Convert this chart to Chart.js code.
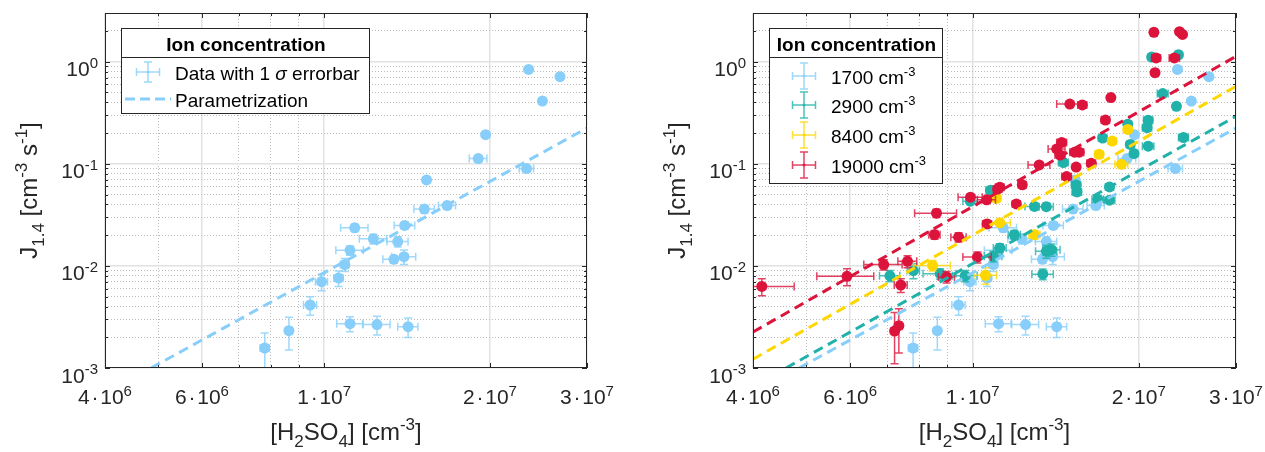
<!DOCTYPE html>
<html>
<head>
<meta charset="utf-8">
<script src="https://cdn.jsdelivr.net/npm/chart.js@4"></script>
<style>
  html, body { margin: 0; padding: 0; background: #fff; }
  #wrap { position: relative; width: 1265px; height: 452px; }
  #wrap canvas { position: absolute; top: 0; }
</style>
</head>
<body>
<div id="wrap">
  <canvas id="left" width="632" height="452" style="left:0"></canvas>
  <canvas id="right" width="633" height="452" style="left:632px"></canvas>
</div>
<script>
// ---- axis ticks ----
const xMajorTicks = [4e6, 6e6, 1e7, 2e7, 3e7];
const xMinorTicks = [5e6, 7e6, 8e6, 9e6];
const xTickLabels = [['4\u200A·\u200A10', '6'], ['6\u200A·\u200A10', '6'], ['1\u200A·\u200A10', '7'], ['2\u200A·\u200A10', '7'], ['3\u200A·\u200A10', '7']];
const yMajorTicks = [1e-3, 1e-2, 1e-1, 1];
const yTickLabels = [['10', '-3'], ['10', '-2'], ['10', '-1'], ['10', '0']];
const yMin = 1e-3, yMax = 3;

// ---- ion concentration 1700 cm-3 ----
const h2so4_1700 = [7.80e6, 8.63e6, 9.43e6, 9.89e6, 10.62e6, 10.90e6, 11.14e6, 11.36e6, 12.28e6, 13.60e6, 13.38e6, 13.96e6, 14.00e6,
  15.20e6, 15.34e6, 16.72e6, 19.04e6, 19.64e6, 23.30e6, 23.50e6, 24.90e6, 26.80e6, 11.14e6, 12.47e6, 14.20e6];
const dH2so4_1700 = [0.15e6, 0.12e6, 0.26e6, 0.25e6, 0.20e6, 0.20e6, 0.64e6, 0.65e6, 0.70e6, 0.60e6, 0.60e6, 0.70e6, 0.60e6,
  0.65e6, 0.20e6, 0.60e6, 0.70e6, 0.20e6, 0.70e6, 0.20e6, 0.20e6, 0.30e6, 0.60e6, 0.70e6, 0.60e6];
const j_1700 = [1.57e-3, 2.32e-3, 4.14e-3, 7.0e-3, 7.6e-3, 1.03e-2, 1.42e-2, 2.36e-2, 1.84e-2, 1.73e-2, 1.16e-2, 1.23e-2, 2.49e-2,
  3.6e-2, 6.96e-2, 3.9e-2, 0.1125, 0.193, 0.0898, 0.841, 0.412, 0.714, 2.72e-3, 2.66e-3, 2.54e-3];
const dJ_1700 = [0.63e-3, 0.82e-3, 0.85e-3, 1.3e-3, 1.3e-3, 1.5e-3, 1.5e-3, 2.0e-3, 2.0e-3, 2.0e-3, 1.0e-3, 2.0e-3, 2.0e-3,
  3.0e-3, 4.0e-3, 3.0e-3, 8e-3, 1e-2, 6e-3, 4e-2, 2e-2, 3e-2, 0.45e-3, 0.55e-3, 0.55e-3];

// ---- ion concentration 2900 cm-3 ----
const h2so4_2900 = [7.08e6, 7.81e6, 8.73e6, 9.69e6, 10.90e6, 11.20e6, 11.90e6, 12.94e6, 13.60e6, 13.40e6, 13.60e6, 13.90e6, 10.77e6,
  9.90e6, 14.60e6, 15.40e6, 15.45e6, 16.85e6, 17.70e6, 17.70e6, 17.20e6, 19.30e6, 19.60e6, 19.10e6, 20.80e6, 20.70e6, 20.80e6,
  22.10e6, 23.40e6, 24.10e6, 21.10e6, 23.60e6];
const dH2so4_2900 = [0.30e6, 0.20e6, 0.60e6, 0.50e6, 0.40e6, 0.30e6, 0.30e6, 0.50e6, 0.40e6, 0.60e6, 0.60e6, 0.50e6, 0.20e6,
  0.30e6, 0.30e6, 0.30e6, 0.30e6, 0.40e6, 0.40e6, 0.30e6, 0.30e6, 0.30e6, 0.30e6, 0.30e6, 0.40e6, 0.40e6, 0.50e6,
  0.50e6, 0.30e6, 0.50e6, 0.30e6, 0.30e6];
const j_2900 = [0.0080, 0.0090, 0.0084, 0.0080, 0.0124, 0.0150, 0.0202, 0.0382, 0.0380, 0.0083, 0.0139, 0.0144, 0.0550,
  0.0430, 0.1030, 0.0620, 0.0530, 0.0450, 0.0440, 0.0594, 0.1790, 0.1550, 0.1260, 0.2440, 0.2670, 0.2260, 0.1490,
  0.4870, 0.3660, 0.1810, 1.1100, 1.1700];
const dJ_2900 = [0.0010, 0.0015, 0.0010, 0.0010, 0.0015, 0.0015, 0.002, 0.003, 0.003, 0.001, 0.002, 0.002, 0.004,
  0.003, 0.006, 0.004, 0.004, 0.003, 0.003, 0.004, 0.01, 0.01, 0.008, 0.015, 0.015, 0.015, 0.01,
  0.03, 0.02, 0.01, 0.05, 0.05];

// ---- ion concentration 8400 cm-3 ----
const h2so4_8400 = [8.46e6, 10.55e6, 11.20e6, 12.94e6, 11.04e6, 16.95e6, 17.90e6, 18.60e6, 19.10e6];
const dH2so4_8400 = [0.65e6, 0.50e6, 0.50e6, 0.30e6, 0.20e6, 0.30e6, 0.30e6, 0.50e6, 0.30e6];
const j_8400 = [0.0101, 0.0081, 0.0264, 0.0202, 0.0460, 0.1240, 0.1670, 0.0990, 0.2170];
const dJ_8400 = [0.0012, 0.0015, 0.002, 0.002, 0.003, 0.008, 0.01, 0.006, 0.012];

// ---- ion concentration 19000 cm-3 ----
const h2so4_19000 = [4.15e6, 5.92e6, 6.90e6, 7.62e6, 7.41e6, 7.22e6, 7.35e6, 8.53e6, 9.43e6, 8.60e6, 8.97e6, 9.91e6, 10.60e6,
  10.20e6, 11.10e6, 11.20e6, 10.62e6, 12.00e6, 12.30e6, 13.20e6, 14.50e6, 14.20e6, 14.40e6, 14.80e6, 15.40e6, 15.30e6,
  15.60e6, 16.40e6, 15.00e6, 15.80e6, 17.40e6, 17.80e6, 21.30e6, 21.50e6, 21.40e6, 23.20e6, 23.70e6, 24.00e6];
const dH2so4_19000 = [0.60e6, 0.70e6, 0.55e6, 0.30e6, 0.20e6, 0.10e6, 0.10e6, 0.20e6, 0.30e6, 0.75e6, 0.30e6, 0.50e6, 0.40e6,
  0.60e6, 0.20e6, 0.20e6, 0.20e6, 0.20e6, 0.20e6, 0.60e6, 0.30e6, 0.50e6, 0.30e6, 0.30e6, 0.20e6, 0.30e6,
  0.30e6, 0.30e6, 0.80e6, 0.30e6, 0.30e6, 0.20e6, 0.30e6, 0.40e6, 0.30e6, 0.50e6, 0.20e6, 0.20e6];
const j_19000 = [0.0063, 0.0079, 0.0103, 0.0111, 0.0065, 0.0023, 0.0026, 0.0202, 0.0191, 0.0328, 0.0078, 0.0471, 0.0444,
  0.0122, 0.0566, 0.0590, 0.0258, 0.0405, 0.0622, 0.0976, 0.1620, 0.1400, 0.1220, 0.0750, 0.0930, 0.1300,
  0.1300, 0.1010, 0.3850, 0.3770, 0.2680, 0.4450, 1.9400, 1.0900, 0.7800, 1.0900, 1.9700, 1.8500];
const dJ_19000 = [0.0012, 0.0015, 0.0012, 0.0015, 0.0010, 0.0012, 0.0012, 0.002, 0.002, 0.003, 0.001, 0.003, 0.003,
  0.0015, 0.004, 0.004, 0.002, 0.003, 0.004, 0.006, 0.01, 0.01, 0.008, 0.005, 0.006, 0.008,
  0.008, 0.006, 0.02, 0.02, 0.015, 0.02, 0.1, 0.05, 0.04, 0.05, 0.1, 0.1];

// ---- parametrization lines (end points) ----
const paramX_1700 = [4.85e6, 3e7], paramJ_1700 = [1e-3, 0.224];
const paramX_2900 = [4.59e6, 3e7], paramJ_2900 = [1e-3, 0.292];
const paramX_8400 = [4e6, 3e7], paramJ_8400 = [1.22e-3, 0.574];
const paramX_19000 = [4e6, 3e7], paramJ_19000 = [2.25e-3, 1.13];

// ---- styling ----
const FONT = '"Liberation Sans", Arial, Helvetica, sans-serif';
const INK = '#262626';
const GRID_MAJOR = '#e2e2e2';
const GRID_MINOR = '#bdbdbd';
const TICK_SIZE = 21;
const TITLE_SIZE = 24;
const LEGEND_SIZE = 19;
const CAP = 4;
const C1700 = '#87CEFA', E1700 = 'rgba(135,206,250,0.8)';
const C2900 = '#20B2AA', E2900 = 'rgba(32,178,170,0.8)';
const C8400 = '#FFD700', E8400 = 'rgba(255,215,0,0.8)';
const C19000 = '#DC143C', E19000 = 'rgba(220,20,60,0.8)';

// text with super/subscripts: parts = [[text, kind]] with kind '', 'sup', 'sub', 'it', 'b'
function partStyle(part, size) {
  const kind = part[1] || '';
  const small = kind === 'sup' || kind === 'sub';
  return {
    size: small ? Math.round(size * 0.7) : size,
    style: kind === 'it' ? 'italic ' : kind === 'b' ? 'bold ' : '',
    shift: kind === 'sup' ? -0.4 * size : kind === 'sub' ? 0.28 * size : 0
  };
}

function richWidth(ctx, parts, size) {
  let w = 0;
  for (const p of parts) {
    const s = partStyle(p, size);
    ctx.font = s.style + s.size + 'px ' + FONT;
    w += ctx.measureText(p[0]).width;
  }
  return w;
}

function drawRich(ctx, parts, x, y, size, align) {
  const w = richWidth(ctx, parts, size);
  let cx = align === 'center' ? x - w / 2 : align === 'right' ? x - w : x;
  ctx.textAlign = 'left';
  ctx.textBaseline = 'alphabetic';
  for (const p of parts) {
    const s = partStyle(p, size);
    ctx.font = s.style + s.size + 'px ' + FONT;
    ctx.fillText(p[0], cx, y + s.shift);
    cx += ctx.measureText(p[0]).width;
  }
}

function errorCross(ctx, x, y, hw, hh) {
  ctx.beginPath();
  ctx.moveTo(x - hw, y); ctx.lineTo(x + hw, y);
  ctx.moveTo(x - hw, y - CAP); ctx.lineTo(x - hw, y + CAP);
  ctx.moveTo(x + hw, y - CAP); ctx.lineTo(x + hw, y + CAP);
  ctx.moveTo(x, y - hh); ctx.lineTo(x, y + hh);
  ctx.moveTo(x - CAP, y - hh); ctx.lineTo(x + CAP, y - hh);
  ctx.moveTo(x - CAP, y + hh); ctx.lineTo(x + CAP, y + hh);
  ctx.stroke();
}

// x and y error bars, drawn just under each dataset's markers
const errorBars = {
  id: 'errorBars',
  beforeDatasetDraw(chart, args) {
    const ds = chart.data.datasets[args.index];
    if (!ds.errX) return;
    const { ctx, chartArea: a } = chart;
    const xs = chart.scales.x, ys = chart.scales.y;
    ctx.save();
    ctx.beginPath();
    ctx.rect(a.left, a.top, a.right - a.left, a.bottom - a.top);
    ctx.clip();
    ctx.strokeStyle = ds.errColor;
    ctx.lineWidth = 1.5;
    ds.data.forEach((p, i) => {
      const px = xs.getPixelForValue(p.x), py = ys.getPixelForValue(p.y);
      const x0 = xs.getPixelForValue(p.x - ds.errX[i]);
      const x1 = xs.getPixelForValue(p.x + ds.errX[i]);
      const lo = p.y - ds.errY[i];
      const y0 = ys.getPixelForValue(lo > 0 ? lo : yMin / 10);
      const y1 = ys.getPixelForValue(p.y + ds.errY[i]);
      ctx.beginPath();
      ctx.moveTo(x0, py); ctx.lineTo(x1, py);
      ctx.moveTo(x0, py - CAP); ctx.lineTo(x0, py + CAP);
      ctx.moveTo(x1, py - CAP); ctx.lineTo(x1, py + CAP);
      ctx.moveTo(px, y0); ctx.lineTo(px, y1);
      ctx.moveTo(px - CAP, y0); ctx.lineTo(px + CAP, y0);
      ctx.moveTo(px - CAP, y1); ctx.lineTo(px + CAP, y1);
      ctx.stroke();
    });
    ctx.restore();
  }
};

// box, inward ticks, tick labels and axis titles
const frame = {
  id: 'frame',
  afterDraw(chart) {
    const { ctx, chartArea: a } = chart;
    const xs = chart.scales.x, ys = chart.scales.y;
    ctx.save();
    ctx.strokeStyle = INK;
    ctx.lineWidth = 1;
    ctx.strokeRect(a.left + 0.5, a.top + 0.5, a.right - a.left - 1, a.bottom - a.top - 1);
    ctx.beginPath();
    xs.ticks.forEach(t => {
      const px = Math.round(xs.getPixelForValue(t.value)) + 0.5;
      const len = t.major ? 5 : 3;
      ctx.moveTo(px, a.bottom); ctx.lineTo(px, a.bottom - len);
      ctx.moveTo(px, a.top); ctx.lineTo(px, a.top + len);
    });
    ys.ticks.forEach(t => {
      const py = Math.round(ys.getPixelForValue(t.value)) + 0.5;
      const len = t.major ? 5 : 3;
      ctx.moveTo(a.left, py); ctx.lineTo(a.left + len, py);
      ctx.moveTo(a.right, py); ctx.lineTo(a.right - len, py);
    });
    ctx.stroke();

    ctx.fillStyle = INK;
    xMajorTicks.forEach((v, i) => {
      drawRich(ctx, [[xTickLabels[i][0]], [xTickLabels[i][1], 'sup']], xs.getPixelForValue(v), a.bottom + 36, TICK_SIZE, 'center');
    });
    yMajorTicks.forEach((v, i) => {
      drawRich(ctx, [[yTickLabels[i][0]], [yTickLabels[i][1], 'sup']], a.left - 7, ys.getPixelForValue(v) + 14.5, TICK_SIZE, 'right');
    });

    drawRich(ctx, [['[H'], ['2', 'sub'], ['SO'], ['4', 'sub'], ['] [cm'], ['-3', 'sup'], [']']],
      (a.left + a.right) / 2, a.bottom + 72, TITLE_SIZE, 'center');
    ctx.translate(a.left - 68, (a.top + a.bottom) / 2);
    ctx.rotate(-Math.PI / 2);
    drawRich(ctx, [['J'], ['1.4', 'sub'], [' [cm'], ['-3', 'sup'], [' s'], ['-1', 'sup'], [']']],
      0, 0, TITLE_SIZE, 'center');
    ctx.restore();
  }
};

// boxed legend with a bold title row
function ionLegend(width, height, rows, glyphX, textX) {
  return {
    id: 'ionLegend',
    afterDraw(chart) {
      const { ctx, chartArea: a } = chart;
      const left = a.left + 16, top = a.top + 15;
      ctx.save();
      ctx.fillStyle = '#fff';
      ctx.fillRect(left, top, width, height);
      ctx.strokeStyle = INK;
      ctx.lineWidth = 1;
      ctx.strokeRect(left + 0.5, top + 0.5, width, height);
      ctx.beginPath();
      ctx.moveTo(left, top + 29.5); ctx.lineTo(left + width, top + 29.5);
      ctx.stroke();
      ctx.fillStyle = '#000';
      drawRich(ctx, [['Ion concentration', 'b']], left + width / 2 + 1, top + 23, LEGEND_SIZE, 'center');
      rows.forEach(r => {
        const cy = top + r.dy;
        if (r.kind === 'dash') {
          ctx.strokeStyle = r.color;
          ctx.lineWidth = 3;
          ctx.setLineDash([10, 5]);
          ctx.beginPath();
          ctx.moveTo(left + 4, cy); ctx.lineTo(left + 50, cy);
          ctx.stroke();
          ctx.setLineDash([]);
        } else {
          ctx.strokeStyle = r.color;
          ctx.lineWidth = 1.5;
          errorCross(ctx, left + glyphX, cy, r.hw, r.hh);
          ctx.fillStyle = r.color;
          ctx.beginPath();
          ctx.arc(left + glyphX, cy, 1.5, 0, Math.PI * 2);
          ctx.fill();
        }
        ctx.fillStyle = '#000';
        drawRich(ctx, r.label, left + textX, cy + 8, LEGEND_SIZE, 'left');
      });
      ctx.restore();
    }
  };
}

function points(xs, ys) {
  return xs.map((x, i) => ({ x: x, y: ys[i] }));
}

function markerSet(xs, ys, dxs, dys, color, errColor, order) {
  return {
    data: points(xs, ys),
    errX: dxs, errY: dys, errColor: errColor,
    pointRadius: 5.5, pointHoverRadius: 5.5,
    pointBackgroundColor: color, borderWidth: 0, pointBorderWidth: 0,
    order: order
  };
}

function paramLine(xs, ys, color) {
  return {
    data: points(xs, ys),
    showLine: true, borderColor: color, borderWidth: 3, borderDash: [10, 6],
    pointRadius: 0, pointHoverRadius: 0, order: 0
  };
}

function logAxis(min, max, major, minor, fit) {
  return {
    type: 'logarithmic', min: min, max: max,
    ticks: { display: false },
    title: { display: false },
    afterBuildTicks(scale) {
      scale.ticks = major.map(v => ({ value: v, major: true }))
        .concat(minor.map(v => ({ value: v, major: false })));
    },
    afterFit: fit,
    grid: {
      drawTicks: false,
      color: c => (c.tick && c.tick.major ? GRID_MAJOR : GRID_MINOR),
      lineWidth: c => (c.tick && c.tick.major ? 1.5 : 1)
    },
    border: { display: false, dash: c => (c.tick && c.tick.major ? [] : [1, 2]) }
  };
}

const yMinorTicks = [];
yMajorTicks.forEach(d => { for (let k = 2; k <= 9; k++) if (d * k < yMax) yMinorTicks.push(d * k); });

function makeChart(id, datasets, yAxisWidth, rightPad, legend) {
  new Chart(document.getElementById(id), {
    type: 'scatter',
    data: { datasets: datasets },
    options: {
      responsive: false,
      animation: false,
      events: [],
      layout: { padding: { left: 0, right: rightPad, top: 13, bottom: 0 } },
      plugins: { legend: { display: false }, tooltip: { enabled: false } },
      scales: {
        x: logAxis(4e6, 3e7, xMajorTicks, xMinorTicks, s => { s.height = 84; }),
        y: logAxis(yMin, yMax, yMajorTicks, yMinorTicks, s => { s.width = yAxisWidth; })
      }
    },
    plugins: [errorBars, frame, legend]
  });
}

makeChart('left', [
  markerSet(h2so4_1700, j_1700, dH2so4_1700, dJ_1700, C1700, E1700, 1),
  paramLine(paramX_1700, paramJ_1700, C1700)
], 105, 45, ionLegend(248, 85, [
  { kind: 'err', dy: 44, hw: 11.5, hh: 10, color: E1700,
    label: [['Data with 1 '], ['σ', 'it'], [' errorbar']] },
  { kind: 'dash', dy: 71, color: C1700, label: [['Parametrization']] }
], 27, 54));

makeChart('right', [
  markerSet(h2so4_1700, j_1700, dH2so4_1700, dJ_1700, C1700, E1700, 4),
  markerSet(h2so4_2900, j_2900, dH2so4_2900, dJ_2900, C2900, E2900, 3),
  markerSet(h2so4_8400, j_8400, dH2so4_8400, dJ_8400, C8400, E8400, 2),
  markerSet(h2so4_19000, j_19000, dH2so4_19000, dJ_19000, C19000, E19000, 1),
  paramLine(paramX_1700, paramJ_1700, C1700),
  paramLine(paramX_2900, paramJ_2900, C2900),
  paramLine(paramX_8400, paramJ_8400, C8400),
  paramLine(paramX_19000, paramJ_19000, C19000)
], 121, 29, ionLegend(173, 155, [
  { kind: 'err', dy: 48, hw: 11.5, hh: 13, color: E1700, label: [['1700 cm'], ['-3', 'sup']] },
  { kind: 'err', dy: 77, hw: 11.5, hh: 13, color: E2900, label: [['2900 cm'], ['-3', 'sup']] },
  { kind: 'err', dy: 107, hw: 11.5, hh: 13, color: E8400, label: [['8400 cm'], ['-3', 'sup']] },
  { kind: 'err', dy: 137, hw: 11.5, hh: 13, color: E19000, label: [['19000 cm'], ['-3', 'sup']] }
], 35, 62));
</script>
</body>
</html>
